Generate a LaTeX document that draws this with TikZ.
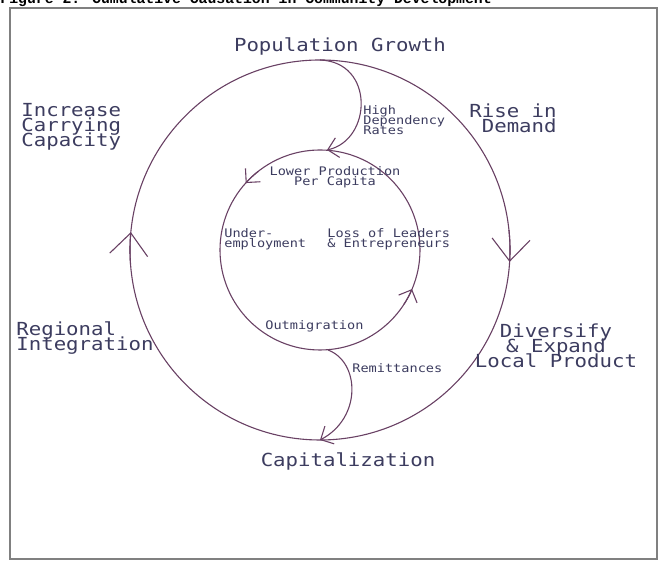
\documentclass[tikz,border=0pt]{standalone}
\usepackage{fontspec}
\usetikzlibrary{arrows.meta}
\newfontfamily\plotfont[FakeStretch=1.15]{DejaVu Sans Mono}
\newfontfamily\titlefont{Liberation Mono}
\definecolor{ink}{RGB}{60,60,95}
\definecolor{loop}{RGB}{105,65,100}
\lineskiplimit=-10pt
\tikzset{
	bigbarb/.tip={Straight Barb[length=11pt,width=19pt]},
	smallbarb/.tip={Straight Barb[length=5pt,width=10pt]},
	loopline/.style={draw=loop,line width=0.55pt},
	big/.style={font=\plotfont\fontsize{9}{7.5}\selectfont,text=ink,inner sep=0pt},
	small/.style={font=\plotfont\fontsize{5.9}{5}\selectfont,text=ink,inner sep=0pt}
}
\begin{document}
\begin{tikzpicture}[x=0.5pt,y=0.5pt]
	\useasboundingbox (0,0) rectangle (659,561);
	\clip (0,0) rectangle (659,561);
	\node[anchor=base west,inner sep=0pt,font=\titlefont\bfseries\fontsize{7.4}{8}\selectfont] (title) at (0,557) {Figure 2. Cumulative Causation in Community Development};
	\draw[gray,line width=1pt] (10,553) rectangle (657,2);
	% the two loops
	\coordinate (c) at (320,311);
	\draw[loopline] (c) circle[radius=190];
	\draw[loopline] (c) circle[radius=100];
	\draw[loopline,-bigbarb] ([shift={(6:190)}]c) arc[start angle=6,end angle=-3.6,radius=190];
	\draw[loopline,-bigbarb] ([shift={(184:190)}]c) arc[start angle=184,end angle=174.6,radius=190];
	\draw[loopline,-smallbarb] ([shift={(128:100)}]c) arc[start angle=128,end angle=138,radius=100];
	\draw[loopline,-smallbarb] ([shift={(-33:100)}]c) arc[start angle=-33,end angle=-23,radius=100];
	\coordinate (pg) at (320,501);
	\coordinate (hd) at (327,411);
	\coordinate (om) at (328,211);
	\coordinate (cap) at (320,121);
	\draw[loopline,-smallbarb] (pg) .. controls (375,499) and (372,421) .. (hd);
	\draw[loopline,-smallbarb] (om) .. controls (360,199) and (362,143) .. (cap);
	% outer labels
	\node[big,anchor=base] (growth) at (340,509) {Population Growth};
	\node[big,anchor=base east,align=right] (demand) at (557,428) {Rise in\\Demand};
	\node[big,anchor=base west,align=left] (carry) at (21,414) {Increase\\Carrying\\Capacity};
	\node[big,anchor=base west,align=left] (region) at (16,210) {Regional\\Integration};
	\node[big,anchor=base,align=center] (diversify) at (556,193) {Diversify\\\& Expand\\Local Product};
	\node[big,anchor=base] (capital) at (348,94) {Capitalization};
	% inner labels
	\node[small,anchor=base west,align=left] (depend) at (363,426) {High\\Dependency\\Rates};
	\node[small,anchor=base,align=center] (lower) at (335,375) {Lower Production\\Per Capita};
	\node[small,anchor=base west,align=left] (under) at (224,313) {Under-\\employment};
	\node[small,anchor=base west,align=left] (leaders) at (327,313) {Loss of Leaders\\\& Entrepreneurs};
	\node[small,anchor=base west] (outmig) at (265,231) {Outmigration};
	\node[small,anchor=base west] (remit) at (352,188) {Remittances};
\end{tikzpicture}
\end{document}
